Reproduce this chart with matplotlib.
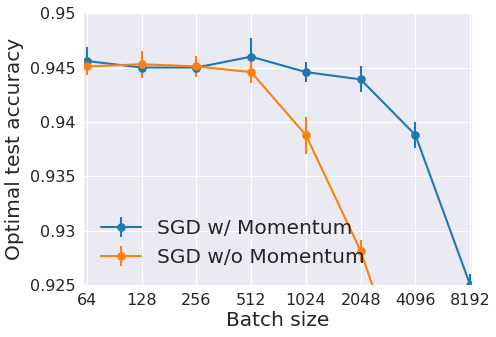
import matplotlib
matplotlib.use("Agg")
import matplotlib.pyplot as plt
import seaborn as sns
import numpy as np

batch_sizes = [64, 128, 256, 512, 1024, 2048, 4096, 8192]
xtick_labels = ["64", "128", "256", "512", "1024", "2048", "4096", "8192"]
yticks = [0.925, 0.93, 0.935, 0.94, 0.945, 0.95]
ytick_labels = ["0.925", "0.93", "0.935", "0.94", "0.945", "0.95"]

mom_acc = [0.9456, 0.9450, 0.9450, 0.9460, 0.94458, 0.94391, 0.93879, 0.9250]
mom_err = [0.0013, 0.0005, 0.0004, 0.0017, 0.00095, 0.0012, 0.0012, 0.0010]
nomom_acc = [0.9451, 0.9453, 0.9451, 0.94458, 0.93879, 0.92813, 0.9134, 0.900]
nomom_err = [0.0008, 0.00126, 0.0010, 0.0010, 0.0017, 0.0010, 0.0010, 0.0010]

sns.set_style("darkgrid")
fig = plt.figure(figsize=(4.96, 3.37), dpi=100)
ax = fig.add_axes([0.167, 0.154, 0.785, 0.807])

ax.errorbar(batch_sizes, mom_acc, yerr=mom_err, fmt='-o', color='#1f77b4',
            lw=1.5, ms=5.2, elinewidth=1.5, capsize=0, label='SGD w/ Momentum')
ax.errorbar(batch_sizes, nomom_acc, yerr=nomom_err, fmt='-o', color='#ff7f0e',
            lw=1.5, ms=5.2, elinewidth=1.5, capsize=0, label='SGD w/o Momentum')

ax.set_xscale('log', base=2)
ax.set_xticks(batch_sizes)
ax.set_xticklabels(xtick_labels)
ax.minorticks_off()
ax.set_xlim(60.8, 8400)
ax.set_ylim(0.925, 0.95)
ax.set_yticks(yticks)
ax.set_yticklabels(ytick_labels)
ax.tick_params(labelsize=11.5, pad=2)
ax.set_xlabel('Batch size', fontsize=14.5, labelpad=2)
ax.set_ylabel('Optimal test accuracy', fontsize=14.5, labelpad=4)
ax.legend(loc='lower left', fontsize=14.5, frameon=False)

fig.savefig('out.png', dpi=100)
